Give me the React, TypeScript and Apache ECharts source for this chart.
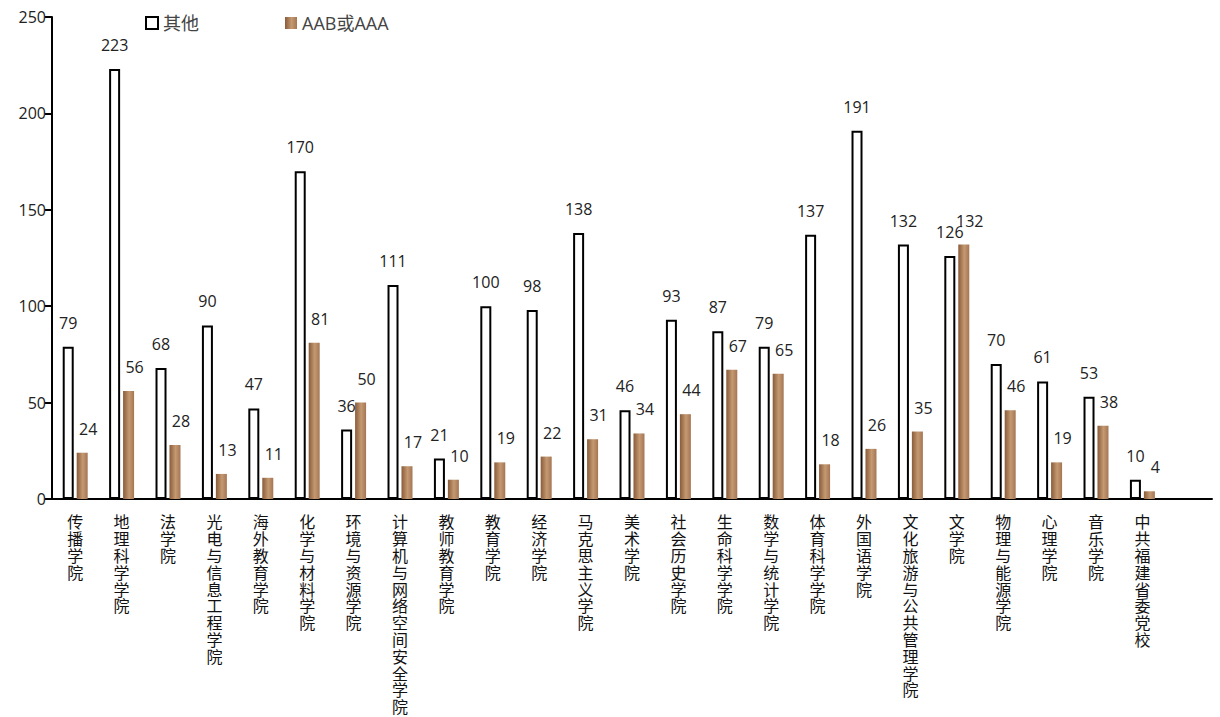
import React, { useEffect, useRef } from "react";
import * as echarts from "echarts";

const categories = [
  "传播学院", "地理科学学院", "法学院", "光电与信息工程学院", "海外教育学院",
  "化学与材料学院", "环境与资源学院", "计算机与网络空间安全学院", "教师教育学院",
  "教育学院", "经济学院", "马克思主义学院", "美术学院", "社会历史学院",
  "生命科学学院", "数学与统计学院", "体育科学学院", "外国语学院",
  "文化旅游与公共管理学院", "文学院", "物理与能源学院", "心理学院", "音乐学院",
  "中共福建省委党校", "",
];
const otherValues = [79, 223, 68, 90, 47, 170, 36, 111, 21, 100, 98, 138, 46, 93, 87, 79, 137, 191, 132, 126, 70, 61, 53, 10, null];
const aabValues = [24, 56, 28, 13, 11, 81, 50, 17, 10, 19, 22, 31, 34, 44, 67, 65, 18, 26, 35, 132, 46, 19, 38, 4, null];
const yTicks = { min: 0, max: 250, interval: 50 };
const seriesNames = ["其他", "AAB或AAA"];

const FONT = "'Open Sans', 'Noto Sans CJK SC', sans-serif";

export default function App() {
  const ref = useRef<HTMLDivElement>(null);
  useEffect(() => {
    if (!ref.current) return;
    const chart = echarts.init(ref.current, null, { renderer: "svg" });
    const brown = new echarts.graphic.LinearGradient(0, 0, 1, 0, [
      { offset: 0, color: "#8a5b3a" },
      { offset: 0.55, color: "#c49a72" },
      { offset: 1, color: "#a57553" },
    ]);
    chart.setOption({
      animation: false,
      textStyle: { fontFamily: FONT },
      legend: {
        left: 145,
        top: 14,
        padding: 0,
        itemWidth: 12,
        itemHeight: 12,
        itemGap: 86,
        textStyle: { fontSize: 18, color: "#444", fontFamily: FONT },
        data: [
          { name: seriesNames[0], icon: "rect" },
          { name: seriesNames[1], icon: "rect" },
        ],
      },
      grid: { left: 52, right: 8, top: 17, bottom: 218, containLabel: false },
      xAxis: {
        type: "category",
        data: categories,
        axisLine: { lineStyle: { color: "#000", width: 2 } },
        axisTick: { show: false },
        axisLabel: {
          interval: 0,
          margin: 14,
          fontSize: 16,
          lineHeight: 16.8,
          color: "#111",
          fontFamily: "'Noto Sans CJK SC', sans-serif",
          formatter: (v: string) => v.split("").join("\n"),
        },
      },
      yAxis: {
        type: "value",
        min: yTicks.min,
        max: yTicks.max,
        interval: yTicks.interval,
        splitLine: { show: false },
        axisLine: { show: true, lineStyle: { color: "#000", width: 2 } },
        axisTick: { show: true, length: 7, lineStyle: { color: "#000", width: 2 } },
        axisLabel: { fontSize: 16, color: "#222", margin: 6, fontFamily: FONT },
      },
      series: [
        {
          name: seriesNames[0],
          type: "bar",
          data: otherValues,
          barWidth: 11,
          barGap: "27%",
          itemStyle: { color: "#fff", borderColor: "#000", borderWidth: 2 },
          label: {
            show: true,
            position: "top",
            distance: 16,
            fontSize: 16,
            color: "#222",
            fontFamily: FONT,
          },
        },
        {
          name: seriesNames[1],
          type: "bar",
          data: aabValues,
          barWidth: 11,
          itemStyle: { color: brown },
          label: {
            show: true,
            position: "top",
            distance: 16,
            offset: [6, 0],
            fontSize: 16,
            color: "#222",
            fontFamily: FONT,
          },
        },
      ],
    });
    return () => chart.dispose();
  }, []);
  return (
    <div
      ref={ref}
      style={{ position: "fixed", left: 0, top: 0, width: 1220, height: 717, background: "#fff" }}
    />
  );
}
